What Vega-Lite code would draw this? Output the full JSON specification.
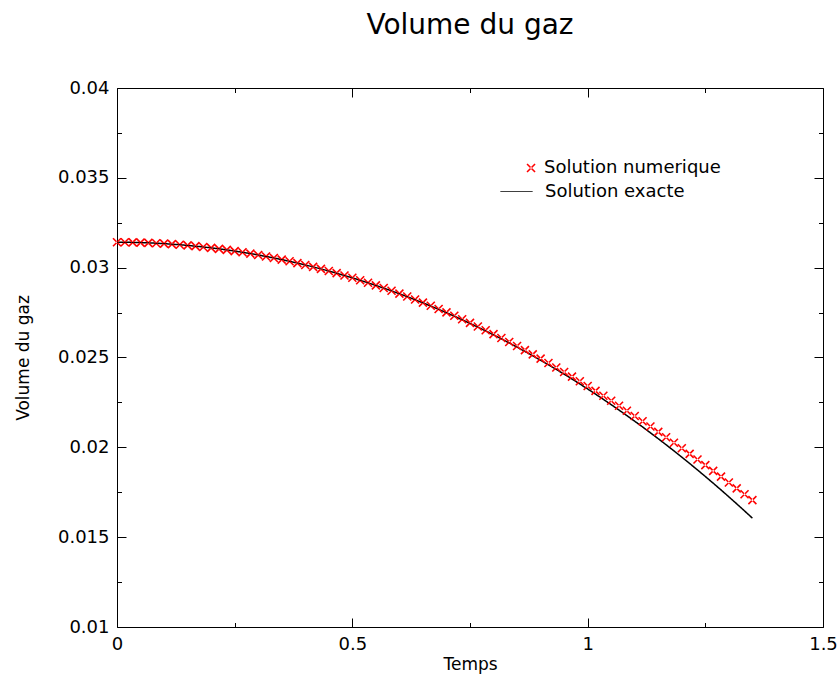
{
  "$schema": "https://vega.github.io/schema/vega-lite/v6.json",
  "width": 706,
  "height": 539,
  "autosize": {"type": "none"},
  "padding": {"left": 117, "top": 88, "right": 17, "bottom": 59},
  "background": "white",
  "title": {"text": "Volume du gaz", "font": "DejaVu Sans", "fontSize": 28, "fontWeight": "normal", "color": "black", "anchor": "middle", "baseline": "alphabetic", "offset": 17},
  "config": {
    "view": {"stroke": "black", "strokeWidth": 1},
    "axis": {
      "domain": false, "grid": false, "labelFlush": false,
      "labelFont": "DejaVu Sans", "labelFontSize": 18, "labelColor": "black",
      "titleFont": "DejaVu Sans", "titleFontSize": 17, "titleFontWeight": "normal", "titleColor": "black",
      "tickColor": "black", "tickWidth": 1
    },
    "legend": {"labelFont": "DejaVu Sans", "labelFontSize": 18, "labelColor": "black", "labelOffset": 12, "labelLimit": 400, "symbolSize": 1024}
  },
  "data": {"values": [
    {"t": 0, "num": 0.031416, "exact": 0.031416},
    {"t": 0.01667, "num": 0.031414, "exact": 0.031414},
    {"t": 0.03333, "num": 0.031407, "exact": 0.031407},
    {"t": 0.05, "num": 0.031396, "exact": 0.031396},
    {"t": 0.06667, "num": 0.031381, "exact": 0.031381},
    {"t": 0.08333, "num": 0.031361, "exact": 0.031361},
    {"t": 0.1, "num": 0.031337, "exact": 0.031337},
    {"t": 0.11667, "num": 0.031309, "exact": 0.031309},
    {"t": 0.13333, "num": 0.031276, "exact": 0.031276},
    {"t": 0.15, "num": 0.031239, "exact": 0.031239},
    {"t": 0.16667, "num": 0.031198, "exact": 0.031198},
    {"t": 0.18333, "num": 0.031152, "exact": 0.031152},
    {"t": 0.2, "num": 0.031101, "exact": 0.031101},
    {"t": 0.21667, "num": 0.031047, "exact": 0.031047},
    {"t": 0.23333, "num": 0.030987, "exact": 0.030987},
    {"t": 0.25, "num": 0.030924, "exact": 0.030924},
    {"t": 0.26667, "num": 0.030856, "exact": 0.030856},
    {"t": 0.28333, "num": 0.030784, "exact": 0.030784},
    {"t": 0.3, "num": 0.030707, "exact": 0.030707},
    {"t": 0.31667, "num": 0.030625, "exact": 0.030625},
    {"t": 0.33333, "num": 0.030539, "exact": 0.030539},
    {"t": 0.35, "num": 0.030449, "exact": 0.030449},
    {"t": 0.36667, "num": 0.030354, "exact": 0.030354},
    {"t": 0.38333, "num": 0.030256, "exact": 0.030255},
    {"t": 0.4, "num": 0.030152, "exact": 0.030151},
    {"t": 0.41667, "num": 0.030044, "exact": 0.030043},
    {"t": 0.43333, "num": 0.029931, "exact": 0.02993},
    {"t": 0.45, "num": 0.029815, "exact": 0.029813},
    {"t": 0.46667, "num": 0.029693, "exact": 0.029691},
    {"t": 0.48333, "num": 0.029566, "exact": 0.029564},
    {"t": 0.5, "num": 0.029436, "exact": 0.029433},
    {"t": 0.51667, "num": 0.0293, "exact": 0.029297},
    {"t": 0.53333, "num": 0.029161, "exact": 0.029157},
    {"t": 0.55, "num": 0.029016, "exact": 0.029011},
    {"t": 0.56667, "num": 0.028867, "exact": 0.028862},
    {"t": 0.58333, "num": 0.028714, "exact": 0.028707},
    {"t": 0.6, "num": 0.028556, "exact": 0.028548},
    {"t": 0.61667, "num": 0.028393, "exact": 0.028384},
    {"t": 0.63333, "num": 0.028226, "exact": 0.028215},
    {"t": 0.65, "num": 0.028054, "exact": 0.028042},
    {"t": 0.66667, "num": 0.027878, "exact": 0.027863},
    {"t": 0.68333, "num": 0.027697, "exact": 0.02768},
    {"t": 0.7, "num": 0.027511, "exact": 0.027492},
    {"t": 0.71667, "num": 0.027321, "exact": 0.027299},
    {"t": 0.73333, "num": 0.027127, "exact": 0.027101},
    {"t": 0.75, "num": 0.026928, "exact": 0.026899},
    {"t": 0.76667, "num": 0.026725, "exact": 0.026691},
    {"t": 0.78333, "num": 0.026516, "exact": 0.026478},
    {"t": 0.8, "num": 0.026304, "exact": 0.026261},
    {"t": 0.81667, "num": 0.026087, "exact": 0.026038},
    {"t": 0.83333, "num": 0.025865, "exact": 0.02581},
    {"t": 0.85, "num": 0.02564, "exact": 0.025578},
    {"t": 0.86667, "num": 0.025409, "exact": 0.025339},
    {"t": 0.88333, "num": 0.025175, "exact": 0.025096},
    {"t": 0.9, "num": 0.024936, "exact": 0.024848},
    {"t": 0.91667, "num": 0.024693, "exact": 0.024595},
    {"t": 0.93333, "num": 0.024445, "exact": 0.024336},
    {"t": 0.95, "num": 0.024193, "exact": 0.024072},
    {"t": 0.96667, "num": 0.023938, "exact": 0.023803},
    {"t": 0.98333, "num": 0.023677, "exact": 0.023528},
    {"t": 1, "num": 0.023413, "exact": 0.023248},
    {"t": 1.01667, "num": 0.023144, "exact": 0.022962},
    {"t": 1.03333, "num": 0.022872, "exact": 0.022671},
    {"t": 1.05, "num": 0.022596, "exact": 0.022375},
    {"t": 1.06667, "num": 0.022316, "exact": 0.022073},
    {"t": 1.08333, "num": 0.022033, "exact": 0.021766},
    {"t": 1.1, "num": 0.021745, "exact": 0.021452},
    {"t": 1.11667, "num": 0.021454, "exact": 0.021134},
    {"t": 1.13333, "num": 0.021159, "exact": 0.020809},
    {"t": 1.15, "num": 0.020861, "exact": 0.020479},
    {"t": 1.16667, "num": 0.020561, "exact": 0.020144},
    {"t": 1.18333, "num": 0.020256, "exact": 0.019802},
    {"t": 1.2, "num": 0.019948, "exact": 0.019455},
    {"t": 1.21667, "num": 0.019638, "exact": 0.019102},
    {"t": 1.23333, "num": 0.019323, "exact": 0.018742},
    {"t": 1.25, "num": 0.019007, "exact": 0.018377},
    {"t": 1.26667, "num": 0.018688, "exact": 0.018006},
    {"t": 1.28333, "num": 0.018367, "exact": 0.017629},
    {"t": 1.3, "num": 0.018042, "exact": 0.017245},
    {"t": 1.31667, "num": 0.017717, "exact": 0.016856},
    {"t": 1.33333, "num": 0.017388, "exact": 0.01646},
    {"t": 1.35, "num": 0.017059, "exact": 0.016059}
  ]},
  "layer": [
    {
      "mark": {"type": "line", "color": "black", "strokeWidth": 1.5},
      "encoding": {
        "x": {"field": "t", "type": "quantitative", "scale": {"domain": [0, 1.5], "nice": false, "zero": false},
          "axis": {"orient": "bottom", "title": "Temps", "values": [0, 0.25, 0.5, 0.75, 1, 1.25, 1.5],
            "labelExpr": "abs(round(datum.value*2)-datum.value*2)<0.001 ? format(datum.value,'~g') : ''",
            "tickSize": {"condition": {"test": "abs(round(datum.value*2)-datum.value*2)<0.001", "value": -9}, "value": -4.5},
            "labelPadding": 17, "titlePadding": 3}},
        "y": {"field": "exact", "type": "quantitative", "scale": {"domain": [0.01, 0.04], "nice": false, "zero": false},
          "axis": {"orient": "left", "title": "Volume du gaz", "values": [0.01, 0.0125, 0.015, 0.0175, 0.02, 0.0225, 0.025, 0.0275, 0.03, 0.0325, 0.035, 0.0375, 0.04],
            "labelExpr": "abs(round(datum.value*200)-datum.value*200)<0.001 ? format(datum.value,'~g') : ''",
            "tickSize": {"condition": {"test": "abs(round(datum.value*200)-datum.value*200)<0.001", "value": -9}, "value": -4.5},
            "labelPadding": 17, "titlePadding": 25}},
        "strokeDash": {"datum": "Solution exacte", "type": "nominal", "scale": {"range": [[1, 0]]},
          "legend": {"orient": "none", "legendX": 383, "legendY": 87, "title": null, "symbolType": "stroke", "symbolStrokeWidth": 1, "symbolStrokeColor": "black"}}
      }
    },
    {
      "mark": {"type": "point", "shape": "M-0.215,-0.285L0.285,0.215L0.215,0.285L-0.285,-0.215ZM-0.215,0.285L0.285,-0.215L0.215,-0.285L-0.285,0.215Z", "size": 1024, "filled": true, "strokeWidth": 0, "opacity": 1},
      "encoding": {
        "x": {"field": "t", "type": "quantitative",
          "axis": {"orient": "top", "title": null, "labels": false, "values": [0, 0.25, 0.5, 0.75, 1, 1.25, 1.5],
            "tickSize": {"condition": {"test": "abs(round(datum.value*2)-datum.value*2)<0.001", "value": -9}, "value": -4.5}}},
        "y": {"field": "num", "type": "quantitative",
          "axis": {"orient": "right", "title": null, "labels": false, "values": [0.01, 0.0125, 0.015, 0.0175, 0.02, 0.0225, 0.025, 0.0275, 0.03, 0.0325, 0.035, 0.0375, 0.04],
            "tickSize": {"condition": {"test": "abs(round(datum.value*200)-datum.value*200)<0.001", "value": -9}, "value": -4.5}}},
        "color": {"datum": "Solution numerique", "type": "nominal", "scale": {"range": ["#ff0000"]},
          "legend": {"orient": "none", "legendX": 383, "legendY": 64, "title": null,
            "symbolType": "M0.725,-0.285L1.225,0.215L1.155,0.285L0.655,-0.215ZM0.725,0.285L1.225,-0.215L1.155,-0.285L0.655,0.215Z", "symbolStrokeWidth": 0}}
      }
    }
  ],
  "resolve": {"axis": {"x": "independent", "y": "independent"}}
}
